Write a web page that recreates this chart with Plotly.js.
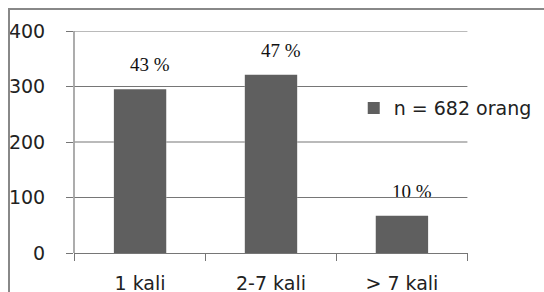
<!DOCTYPE html>
<html>
<head>
<meta charset="utf-8">
<script src="https://cdn.plot.ly/plotly-3.0.1.min.js"></script>
<style>html,body{margin:0;padding:0;background:#fff;}#wrap{position:relative;width:544px;height:292px;overflow:hidden;}#chart{width:544px;height:292px;}#frame{position:absolute;left:8px;top:8px;width:600px;height:400px;border-left:2px solid #888;border-top:2px solid #888;pointer-events:none;}</style>
</head>
<body>
<div id="wrap"><div id="chart"></div><div id="frame"></div></div>
<script>
const categories = ["1 kali", "2-7 kali", "> 7 kali"];
const counts = [295, 321, 67];
const percentLabels = ["43 %", "47 %", "10 %"];
const seriesName = "n = 682 orang";
const yTicks = [0, 100, 200, 300, 400];

const sans = "DejaVu Sans, Verdana, sans-serif";
const gray = "#767676";
const barGap = 0.6;

const trace = {
  type: "bar",
  x: categories,
  y: counts,
  name: seriesName,
  marker: {color: "#5f5f5f", line: {width: 0}},
  showlegend: true,
  hoverinfo: "skip"
};

const annotations = categories.map((c, i) => ({
  x: c, y: counts[i], xref: "x", yref: "y",
  text: percentLabels[i], showarrow: false,
  yanchor: "bottom", yshift: 12, xshift: 10,
  font: {family: "Liberation Serif, Times New Roman, serif", size: 19, color: "#111"}
}));

// gridlines at the y tick values, drawn in category units and interrupted behind the bars
const halfBar = (1 - barGap) / 2;
const gridShapes = [];
yTicks.filter(v => v > 0).forEach(v => {
  let start = -0.5;
  counts.forEach((c, i) => {
    if (c > v) {
      gridShapes.push({type: "line", xref: "x", yref: "y", x0: start, x1: i - halfBar, y0: v, y1: v,
                       layer: "above", line: {color: gray, width: 1.2}});
      start = i + halfBar;
    }
  });
  gridShapes.push({type: "line", xref: "x", yref: "y", x0: start, x1: categories.length - 0.5, y0: v, y1: v,
                   layer: "above", line: {color: gray, width: 1.2}});
});
gridShapes.push({
  type: "line", xref: "paper", yref: "y", x0: 0, x1: 0, y0: yTicks[0], y1: yTicks[yTicks.length - 1],
  layer: "above", line: {color: gray, width: 1.2}
});

const layout = {
  width: 544, height: 292,
  margin: {l: 74, r: 76, t: 31, b: 39, autoexpand: false},
  bargap: barGap,
  showlegend: true,
  legend: {x: 0.71, xanchor: "left", y: 0.653, yanchor: "middle",
           font: {family: sans, size: 19, color: "#222"}, bgcolor: "rgba(0,0,0,0)", itemwidth: 30},
  xaxis: {
    type: "category", tickson: "boundaries", ticks: "outside", ticklen: 7, tickcolor: gray,
    showline: true, linecolor: gray, linewidth: 1, showgrid: false,
    tickfont: {family: sans, size: 19, color: "#222"}, ticklabelstandoff: 13
  },
  yaxis: {
    range: [0, 400], tickvals: yTicks, ticktext: yTicks.map(String),
    ticks: "outside", ticklen: 7, tickcolor: gray,
    showline: false, showgrid: false, zeroline: false,
    tickfont: {family: sans, size: 19, color: "#222"}, ticklabelstandoff: 17
  },
  annotations: annotations,
  shapes: gridShapes
};

Plotly.newPlot("chart", [trace], layout, {displayModeBar: false, staticPlot: true}).then(gd => {
  // keep the gridline layer on top of every other SVG layer so nothing can cover it
  const svgs = gd.querySelectorAll("svg.main-svg");
  const topSvg = svgs[svgs.length - 1];
  const shapeLayer = gd.querySelector(".layer-above .shapelayer");
  if (topSvg && shapeLayer) topSvg.appendChild(shapeLayer);
});
</script>
</body>
</html>
